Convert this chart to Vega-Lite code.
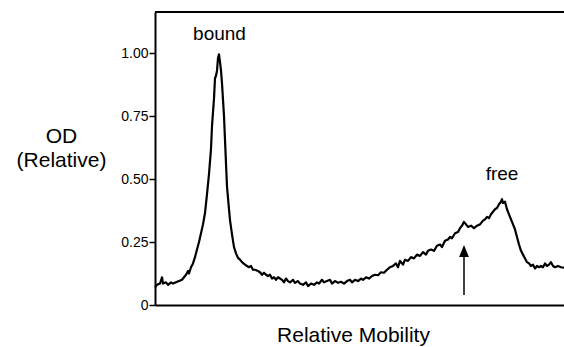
{
  "$schema": "https://vega.github.io/schema/vega-lite/v6.json",
  "autosize": "none",
  "width": 409,
  "height": 293,
  "padding": {"left": 155, "top": 12, "right": 0, "bottom": 42},
  "background": "white",
  "config": {
    "view": {"stroke": null},
    "font": "Liberation Sans",
    "axis": {"domainColor": "black", "domainWidth": 2, "tickColor": "black", "labelColor": "black", "titleColor": "black", "grid": false, "labelFont": "Liberation Sans", "titleFont": "Liberation Sans", "titleFontWeight": "normal"}
  },
  "layer": [
    {
      "data": {"values": [
        {"m":0,"od":0.07},{"m":2,"od":0.08},{"m":5,"od":0.085},{"m":7,"od":0.11},{"m":8,"od":0.085},{"m":11,"od":0.09},{"m":13,"od":0.08},{"m":16,"od":0.09},{"m":18,"od":0.085},{"m":21,"od":0.09},{"m":24,"od":0.095},{"m":27,"od":0.1},{"m":29,"od":0.11},{"m":31,"od":0.12},{"m":33,"od":0.135},{"m":34,"od":0.125},{"m":36,"od":0.15},{"m":38,"od":0.165},{"m":40,"od":0.19},{"m":42,"od":0.22},{"m":44,"od":0.25},{"m":46,"od":0.285},{"m":48,"od":0.32},{"m":50,"od":0.365},{"m":52,"od":0.44},{"m":54,"od":0.52},{"m":56,"od":0.62},{"m":57,"od":0.71},{"m":59,"od":0.82},{"m":60,"od":0.9},{"m":61,"od":0.91},{"m":62,"od":0.93},{"m":63,"od":0.98},{"m":64,"od":0.995},{"m":65,"od":0.965},{"m":66,"od":0.93},{"m":67,"od":0.88},{"m":69,"od":0.75},{"m":70,"od":0.655},{"m":72,"od":0.47},{"m":74,"od":0.38},{"m":75,"od":0.337},{"m":77,"od":0.28},{"m":79,"od":0.23},{"m":81,"od":0.205},{"m":83,"od":0.187},{"m":85,"od":0.18},{"m":87,"od":0.17},{"m":90,"od":0.16},{"m":92,"od":0.155},{"m":94,"od":0.15},{"m":96,"od":0.155},{"m":98,"od":0.14},{"m":100,"od":0.14},{"m":103,"od":0.135},{"m":105,"od":0.13},{"m":107,"od":0.12},{"m":109,"od":0.128},{"m":111,"od":0.12},{"m":113,"od":0.115},{"m":115,"od":0.12},{"m":117,"od":0.105},{"m":119,"od":0.11},{"m":121,"od":0.1},{"m":123,"od":0.11},{"m":125,"od":0.105},{"m":127,"od":0.1},{"m":129,"od":0.09},{"m":131,"od":0.105},{"m":133,"od":0.095},{"m":135,"od":0.09},{"m":138,"od":0.1},{"m":140,"od":0.088},{"m":143,"od":0.095},{"m":145,"od":0.085},{"m":148,"od":0.08},{"m":151,"od":0.09},{"m":153,"od":0.075},{"m":156,"od":0.085},{"m":159,"od":0.08},{"m":162,"od":0.09},{"m":164,"od":0.085},{"m":167,"od":0.1},{"m":169,"od":0.09},{"m":172,"od":0.095},{"m":175,"od":0.1},{"m":177,"od":0.085},{"m":180,"od":0.095},{"m":183,"od":0.088},{"m":186,"od":0.092},{"m":189,"od":0.085},{"m":192,"od":0.095},{"m":195,"od":0.1},{"m":197,"od":0.09},{"m":200,"od":0.1},{"m":203,"od":0.095},{"m":206,"od":0.105},{"m":208,"od":0.1},{"m":211,"od":0.11},{"m":214,"od":0.105},{"m":217,"od":0.115},{"m":220,"od":0.12},{"m":223,"od":0.118},{"m":226,"od":0.13},{"m":229,"od":0.128},{"m":232,"od":0.14},{"m":235,"od":0.15},{"m":238,"od":0.155},{"m":241,"od":0.165},{"m":243,"od":0.15},{"m":245,"od":0.175},{"m":248,"od":0.16},{"m":250,"od":0.18},{"m":253,"od":0.175},{"m":256,"od":0.19},{"m":259,"od":0.185},{"m":262,"od":0.2},{"m":265,"od":0.195},{"m":268,"od":0.21},{"m":271,"od":0.2},{"m":273,"od":0.215},{"m":276,"od":0.22},{"m":279,"od":0.215},{"m":282,"od":0.235},{"m":285,"od":0.24},{"m":287,"od":0.23},{"m":290,"od":0.255},{"m":293,"od":0.26},{"m":295,"od":0.27},{"m":297,"od":0.265},{"m":300,"od":0.285},{"m":303,"od":0.29},{"m":305,"od":0.305},{"m":307,"od":0.315},{"m":309,"od":0.33},{"m":311,"od":0.32},{"m":313,"od":0.31},{"m":316,"od":0.315},{"m":319,"od":0.305},{"m":322,"od":0.315},{"m":325,"od":0.32},{"m":328,"od":0.335},{"m":330,"od":0.34},{"m":332,"od":0.35},{"m":334,"od":0.345},{"m":336,"od":0.36},{"m":338,"od":0.37},{"m":340,"od":0.38},{"m":342,"od":0.385},{"m":344,"od":0.4},{"m":346,"od":0.41},{"m":347,"od":0.42},{"m":348,"od":0.405},{"m":350,"od":0.41},{"m":352,"od":0.38},{"m":354,"od":0.36},{"m":356,"od":0.34},{"m":358,"od":0.32},{"m":360,"od":0.3},{"m":362,"od":0.27},{"m":364,"od":0.24},{"m":366,"od":0.215},{"m":368,"od":0.2},{"m":370,"od":0.185},{"m":372,"od":0.17},{"m":374,"od":0.165},{"m":376,"od":0.155},{"m":378,"od":0.16},{"m":380,"od":0.145},{"m":382,"od":0.155},{"m":384,"od":0.15},{"m":386,"od":0.155},{"m":388,"od":0.15},{"m":390,"od":0.165},{"m":392,"od":0.155},{"m":394,"od":0.16},{"m":396,"od":0.17},{"m":398,"od":0.155},{"m":400,"od":0.15},{"m":403,"od":0.155},{"m":406,"od":0.15},{"m":409,"od":0.148}
      ]},
      "mark": {"type": "line", "color": "black", "strokeWidth": 2.2, "strokeJoin": "round"},
      "encoding": {
        "x": {"field": "m", "type": "quantitative", "scale": {"domain": [0, 409], "nice": false, "zero": false},
              "axis": {"orient": "bottom", "ticks": false, "labels": false, "title": "Relative Mobility", "titleFontSize": 21, "titleX": 198, "titleY": 36, "titleBaseline": "alphabetic", "titleAlign": "center"}},
        "y": {"field": "od", "type": "quantitative", "scale": {"domain": [0, 1.163], "nice": false},
              "axis": {"values": [0, 0.25, 0.5, 0.75, 1], "labelExpr": "datum.value == 0 ? '0' : format(datum.value, '.2f')", "labelFontSize": 14, "tickSize": 6, "tickWidth": 1.5, "labelPadding": 1,
                       "title": ["OD", "(Relative)"], "titleFontSize": 21, "titleAngle": 0, "titleAlign": "center", "titleBaseline": "top", "titleX": -94, "titleY": 113, "titleLineHeight": 24}}
      }
    },
    {
      "data": {"values": [{"top": 1.163}]},
      "mark": {"type": "rule", "color": "black", "strokeWidth": 2},
      "encoding": {"y": {"field": "top", "type": "quantitative"}}
    },
    {
      "data": {"values": [{"m": 309, "lo": 0.04, "hi": 0.22}]},
      "mark": {"type": "rule", "color": "black", "strokeWidth": 1.5},
      "encoding": {"x": {"field": "m", "type": "quantitative"}, "y": {"field": "lo", "type": "quantitative"}, "y2": {"field": "hi"}}
    },
    {
      "data": {"values": [{"m": 309, "od": 0.21}]},
      "mark": {"type": "point", "shape": "M0,-1L0.7,0.7L-0.7,0.7Z", "size": 196, "filled": true, "color": "black", "opacity": 1},
      "encoding": {"x": {"field": "m", "type": "quantitative"}, "y": {"field": "od", "type": "quantitative"}}
    },
    {
      "data": {"values": [{"m": 64.5, "od": 1.052, "label": "bound"}, {"m": 347, "od": 0.496, "label": "free"}]},
      "mark": {"type": "text", "fontSize": 19, "baseline": "alphabetic", "align": "center", "color": "black", "font": "Liberation Sans"},
      "encoding": {"x": {"field": "m", "type": "quantitative"}, "y": {"field": "od", "type": "quantitative"}, "text": {"field": "label"}}
    }
  ]
}
